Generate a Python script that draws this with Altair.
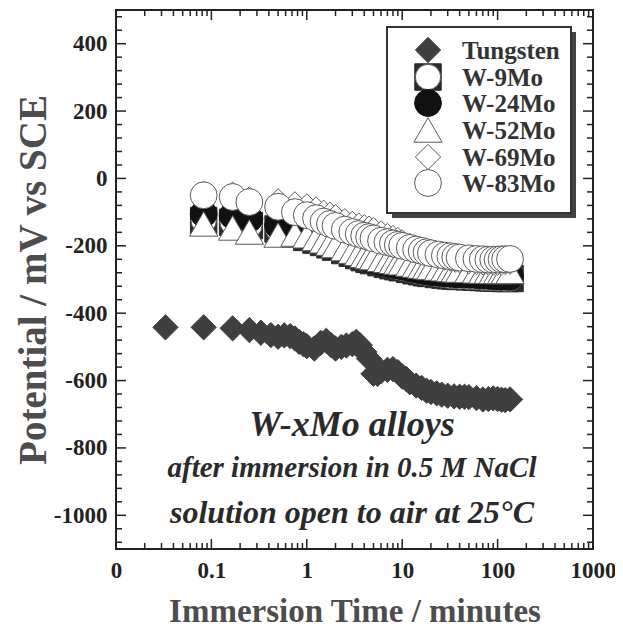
import altair as alt
import pandas as pd

SERIES = ["Tungsten", "W-9Mo", "W-24Mo", "W-52Mo", "W-69Mo", "W-83Mo"]

# Tungsten: immersion time (min) and potential (mV vs SCE)
T_W = [0.033, 0.083, 0.167, 0.25, 0.33, 0.42, 0.5, 0.58, 0.67, 0.75,
       0.83, 0.92, 1.0, 1.2, 1.4, 1.6, 1.8, 2.0, 2.3, 2.6,
       3.0, 3.3, 3.6, 4.0, 4.5, 5.0, 5.5, 6.0, 7.0, 8.0,
       9.0, 10, 11, 12, 14, 16, 18, 20, 23, 26,
       30, 35, 40, 45, 50, 60, 70, 80, 90, 100,
       110, 120, 135]
V_W = [-442, -442, -445, -450, -458, -465, -470, -466, -468, -475,
       -485, -492, -498, -505, -488, -482, -495, -505, -500, -496,
       -492, -485, -495, -515, -535, -580, -580, -572, -568, -566,
       -575, -588, -595, -605, -615, -622, -630, -634, -638, -642,
       -645, -647, -648, -648, -649, -652, -656, -655, -653, -655,
       -657, -658, -656]

# W-xMo alloys: common time base (min)
T_MO = [0.083, 0.167, 0.25, 0.5, 0.75, 1.0, 1.25, 1.5, 1.75, 2.0,
        2.5, 3.0, 3.5, 4.0, 4.5, 5.0, 6.0, 7.0, 8.0, 9.0,
        10, 12, 14, 16, 18, 20, 24, 28, 32, 36,
        40, 50, 60, 70, 80, 90, 100, 110, 120, 135]
V_9 = [-125, -130, -140, -150, -165, -175, -183, -190, -197, -204,
       -214, -222, -229, -235, -240, -244, -250, -255, -259, -262,
       -265, -270, -274, -277, -280, -282, -285, -287, -289, -290,
       -291, -292, -293, -294, -295, -295, -296, -296, -297, -297]
V_24 = [-105, -110, -120, -140, -160, -172, -180, -188, -195, -202,
        -212, -220, -227, -233, -238, -242, -248, -252, -256, -258,
        -261, -266, -270, -273, -276, -278, -280, -282, -283, -284,
        -285, -286, -287, -288, -289, -290, -290, -291, -291, -292]
V_52 = [-135, -147, -159, -168, -165, -170, -178, -185, -192, -199,
        -208, -216, -222, -228, -232, -235, -240, -243, -246, -248,
        -250, -254, -257, -260, -262, -264, -266, -268, -270, -271,
        -272, -273, -274, -275, -275, -276, -276, -276, -276, -276]
V_69 = [-45, -48, -62, -68, -77, -83, -92, -102, -108, -115,
        -127, -135, -140, -145, -149, -153, -163, -171, -177, -183,
        -190, -200, -207, -213, -219, -224, -230, -235, -238, -241,
        -243, -246, -248, -249, -250, -250, -250, -249, -248, -247]
V_83 = [-50, -55, -70, -84, -100, -109, -118, -128, -135, -141,
        -152, -159, -165, -170, -174, -178, -185, -189, -193, -197,
        -200, -206, -211, -215, -219, -222, -226, -229, -231, -233,
        -235, -237, -239, -240, -241, -241, -241, -240, -240, -239]

X_TICKS = [0.01, 0.1, 1, 10, 100, 1000]
Y_TICKS = [-1000, -800, -600, -400, -200, 0, 200, 400]
X_DOMAIN = [0.01, 1000]
Y_DOMAIN = [-1100, 500]

X_MINOR = [m * d for d in [0.01, 0.1, 1, 10, 100] for m in range(2, 10)]
Y_MINOR = [v for v in range(-1080, 500, 40) if v % 200 != 0]

ANNOT = ["W-xMo alloys", "after immersion in 0.5 M NaCl", "solution open to air at 25°C"]

W, H = 477, 539
FONT = "Liberation Serif"
INK = "#222222"

xscale = alt.Scale(type="log", domain=X_DOMAIN, nice=False)
yscale = alt.Scale(domain=Y_DOMAIN, nice=False, zero=False)

xaxis = alt.Axis(values=X_TICKS, ticks=False, domain=False, grid=False,
                 labelExpr="datum.value < 0.05 ? '0' : format(datum.value, '~g')",
                 labelFont=FONT, labelFontWeight="bold", labelFontSize=23,
                 labelColor=INK, labelPadding=10, labelFlush=False, labelOverlap=False,
                 titleFont=FONT, titleFontWeight="bold", titleFontSize=33,
                 titleColor="#4d4d4d", titleY=62, titleBaseline="middle")
yaxis = alt.Axis(values=Y_TICKS, ticks=False, domain=False, grid=False,
                 labelExpr="datum.value < 0 ? '-' + format(-datum.value, 'd') : format(datum.value, 'd')",
                 labelFont=FONT, labelFontWeight="bold", labelFontSize=23,
                 labelColor=INK, labelPadding=9, labelFlush=False, labelOverlap=False,
                 titleFont=FONT, titleFontWeight="bold", titleFontSize=39,
                 titleColor="#4d4d4d", titleX=-83, titleY=H / 2, titleAngle=-90,
                 titleAlign="center", titleBaseline="middle")

XT = "Immersion Time / minutes"
YT = "Potential / mV vs SCE"


def X():
    return alt.X("t:Q", scale=xscale, axis=xaxis, title=XT)


def Y():
    return alt.Y("v:Q", scale=yscale, axis=yaxis, title=YT)


def frame(t, v):
    return pd.DataFrame({"t": t, "v": v})


layers = []

# inward ticks on all four sides
for vals, ln in [(Y_TICKS, 10), (Y_MINOR, 6)]:
    d = pd.DataFrame({"v": vals})
    layers.append(alt.Chart(d).mark_rule(color=INK, strokeWidth=1.5).encode(
        y=Y(), x=alt.value(0), x2=alt.value(ln)))
    layers.append(alt.Chart(d).mark_rule(color=INK, strokeWidth=1.5).encode(
        y=Y(), x=alt.value(W), x2=alt.value(W - ln)))
for vals, ln in [(X_TICKS, 10), (X_MINOR, 6)]:
    d = pd.DataFrame({"t": vals})
    layers.append(alt.Chart(d).mark_rule(color=INK, strokeWidth=1.5).encode(
        x=X(), y=alt.value(H), y2=alt.value(H - ln)))
    layers.append(alt.Chart(d).mark_rule(color=INK, strokeWidth=1.5).encode(
        x=X(), y=alt.value(0), y2=alt.value(ln)))

GRAY = "#5a5a5a"
STYLES = {
    "Tungsten": [dict(shape="diamond", filled=True, fill="#3f3f3f", stroke="#3f3f3f", strokeWidth=1, size=640)],
    "W-9Mo": [dict(shape="square", filled=True, fill="#2a2a2a", stroke="#2a2a2a", strokeWidth=1, size=700),
              dict(shape="circle", filled=True, fill="white", stroke=GRAY, strokeWidth=1, size=640)],
    "W-24Mo": [dict(shape="circle", filled=True, fill="#111111", stroke="#111111", strokeWidth=1, size=720)],
    "W-52Mo": [dict(shape="triangle-up", filled=True, fill="white", stroke=GRAY, strokeWidth=1, size=800)],
    "W-69Mo": [dict(shape="diamond", filled=True, fill="white", stroke=GRAY, strokeWidth=1, size=640)],
    "W-83Mo": [dict(shape="circle", filled=True, fill="white", stroke=GRAY, strokeWidth=1, size=720)],
}
DATA = {
    "Tungsten": (T_W, V_W), "W-9Mo": (T_MO, V_9), "W-24Mo": (T_MO, V_24),
    "W-52Mo": (T_MO, V_52), "W-69Mo": (T_MO, V_69), "W-83Mo": (T_MO, V_83),
}

for name in SERIES:
    t, v = DATA[name]
    d = frame(t, v)
    for st in STYLES[name]:
        layers.append(alt.Chart(d).mark_point(opacity=1, **st).encode(x=X(), y=Y()))

# legend
one = pd.DataFrame({"label": ["legend"]})
layers.append(alt.Chart(one).mark_rect(fill="#444444").encode(
    x=alt.value(276), x2=alt.value(460), y=alt.value(22), y2=alt.value(208)))
layers.append(alt.Chart(one).mark_rect(fill="white", stroke="#333333", strokeWidth=2).encode(
    x=alt.value(271), x2=alt.value(455), y=alt.value(17), y2=alt.value(203)))
LEG_Y = [40, 67, 93, 120, 147, 173]
for name, ly in zip(SERIES, LEG_Y):
    for st in STYLES[name]:
        layers.append(alt.Chart(one).mark_point(opacity=1, **st).encode(
            x=alt.value(312), y=alt.value(ly)))
    lab = pd.DataFrame({"label": [name]})
    layers.append(alt.Chart(lab).mark_text(
        font=FONT, fontWeight="bold", fontSize=25, color="#333333",
        align="left", baseline="middle").encode(
        text="label:N", x=alt.value(346), y=alt.value(ly + 1)))

# annotations
for txt, size, ay in zip(ANNOT, [36, 29, 32], [426, 467, 513]):
    d = pd.DataFrame({"label": [txt]})
    layers.append(alt.Chart(d).mark_text(
        font=FONT, fontWeight="bold", fontStyle="italic", fontSize=size,
        color="#2a2a2a", align="center", baseline="alphabetic").encode(
        text="label:N", x=alt.value(236), y=alt.value(ay)))

chart = alt.layer(*layers).properties(
    width=W, height=H,
    autosize=alt.AutoSizeParams(type="none"),
    padding={"left": 108, "top": 2, "right": 22, "bottom": 79},
    background="white",
).configure_view(stroke=INK, strokeWidth=2)

chart.save("out.html", embed_options={"renderer": "svg", "actions": False})
